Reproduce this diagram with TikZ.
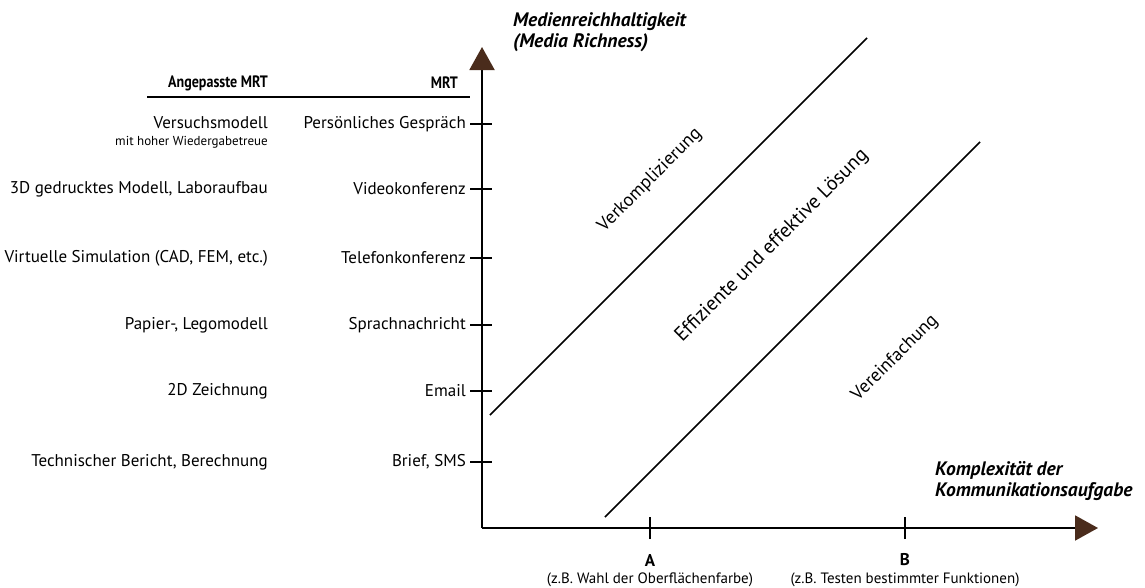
\documentclass[tikz,border=0pt]{standalone}
\usepackage{fontspec}
\setmainfont{PT Sans}
\usepackage{graphicx}
\usetikzlibrary{arrows.meta}
\definecolor{pfeilbraun}{HTML}{4A2C1C}
\tikzset{
	achse/.style={line width=2pt, -{Triangle[length=23pt,width=25pt,color=pfeilbraun]}},
	strich/.style={line width=1.5pt},
	grenze/.style={line width=1.5pt},
	kopf/.style={anchor=east, inner sep=0pt, font=\fontsize{16.5}{18}\selectfont\bfseries},
	eintrag/.style={anchor=east, inner sep=0pt, font=\fontsize{17}{19}\selectfont},
	klein/.style={anchor=east, inner sep=0pt, font=\fontsize{13}{15}\selectfont},
	achstitel/.style={anchor=west, inner sep=0pt, align=left, font=\fontsize{19.5}{21}\selectfont\bfseries\itshape},
	bereich/.style={rotate=45, inner sep=0pt, font=\fontsize{18.5}{20}\selectfont},
	beispiel/.style={inner sep=0pt, font=\fontsize{15}{17}\selectfont},
	marke/.style={inner sep=0pt, font=\fontsize{17}{19}\selectfont\bfseries},
}

\begin{document}
\begin{tikzpicture}[x=1pt,y=-1pt]
				\useasboundingbox (0,0) rectangle (1145,587);
				
				% Achsen
				\coordinate (O) at (482,528);
				\coordinate (ytip) at (482,47);
				\coordinate (xtip) at (1098,528);
				\draw[achse] (O) -- (ytip);
				\draw[achse] (O) -- (xtip);
				
				\node[achstitel] (ytitel) at (513,32) {Medienreichhaltigkeit\\(Media Richness)};
				\node[achstitel] (xtitel) at (935,481) {Komplexität der\\Kommunikationsaufgabe};
				
				% Kopfzeile
				\node[kopf] (kangepasst) at (268,83) {\scalebox{0.85}[1]{Angepasste MRT}};
				\node[kopf] (kmrt) at (458,83) {\scalebox{0.85}[1]{MRT}};
				\coordinate (linie1) at (147,97);
				\coordinate (linie2) at (470,97);
				\draw[line width=1.5pt] (linie1) -- (linie2);
				
				% Skala MRT
				\coordinate (t1) at (470,124);
				\coordinate (t2) at (470,189);
				\coordinate (t3) at (470,258);
				\coordinate (t4) at (470,325);
				\coordinate (t5) at (470,391);
				\coordinate (t6) at (470,462);
				\draw[strich] (t1) -- ++(22,0);
				\draw[strich] (t2) -- ++(22,0);
				\draw[strich] (t3) -- ++(22,0);
				\draw[strich] (t4) -- ++(22,0);
				\draw[strich] (t5) -- ++(22,0);
				\draw[strich] (t6) -- ++(22,0);
				
				\node[eintrag] (m1) at ([xshift=-4pt]t1) {Persönliches Gespräch};
				\node[eintrag] (m2) at ([xshift=-4pt]t2) {Videokonferenz};
				\node[eintrag] (m3) at ([xshift=-4pt]t3) {Telefonkonferenz};
				\node[eintrag] (m4) at ([xshift=-4pt]t4) {Sprachnachricht};
				\node[eintrag] (m5) at ([xshift=-4pt]t5) {Email};
				\node[eintrag] (m6) at ([xshift=-4pt]t6) {Brief, SMS};
				
				% angepasste MRT
				\node[eintrag] (a1) at (268,123) {Versuchsmodell};
				\node[klein] (a1b) at (268,142) {mit hoher Wiedergabetreue};
				\node[eintrag] (a2) at (268,189) {3D gedrucktes Modell, Laboraufbau};
				\node[eintrag] (a3) at (268,258) {Virtuelle Simulation (CAD, FEM, etc.)};
				\node[eintrag] (a4) at (268,325) {Papier-, Legomodell};
				\node[eintrag] (a5) at (268,391) {2D Zeichnung};
				\node[eintrag] (a6) at (268,462) {Technischer Bericht, Berechnung};
				
				% Bereiche
				\coordinate (g1a) at (490,415);
				\coordinate (g1b) at (867,38);
				\coordinate (g2a) at (605,517);
				\coordinate (g2b) at (980,142);
				\draw[grenze] (g1a) -- (g1b);
				\draw[grenze] (g2a) -- (g2b);
				
				\node[bereich] (verkompl) at (650,180) {Verkomplizierung};
				\node[bereich, font=\fontsize{20}{22}\selectfont] (effizient) at (772,246) {Effiziente und effektive Lösung};
				\node[bereich] (vereinf) at (895,358) {Vereinfachung};
				
				% Beispiele
				\coordinate (tA) at (650,528);
				\coordinate (tB) at (905,528);
				\draw[strich] ([yshift=-11pt]tA) -- ([yshift=11pt]tA);
				\draw[strich] ([yshift=-11pt]tB) -- ([yshift=11pt]tB);
				\node[marke] (A) at (650,560) {A};
				\node[beispiel] (Absp) at (650,580) {(z.B. Wahl der Oberflächenfarbe)};
				\node[marke] (B) at (905,560) {B};
				\node[beispiel] (Bbsp) at (905,580) {(z.B. Testen bestimmter Funktionen)};
\end{tikzpicture}
\end{document}
